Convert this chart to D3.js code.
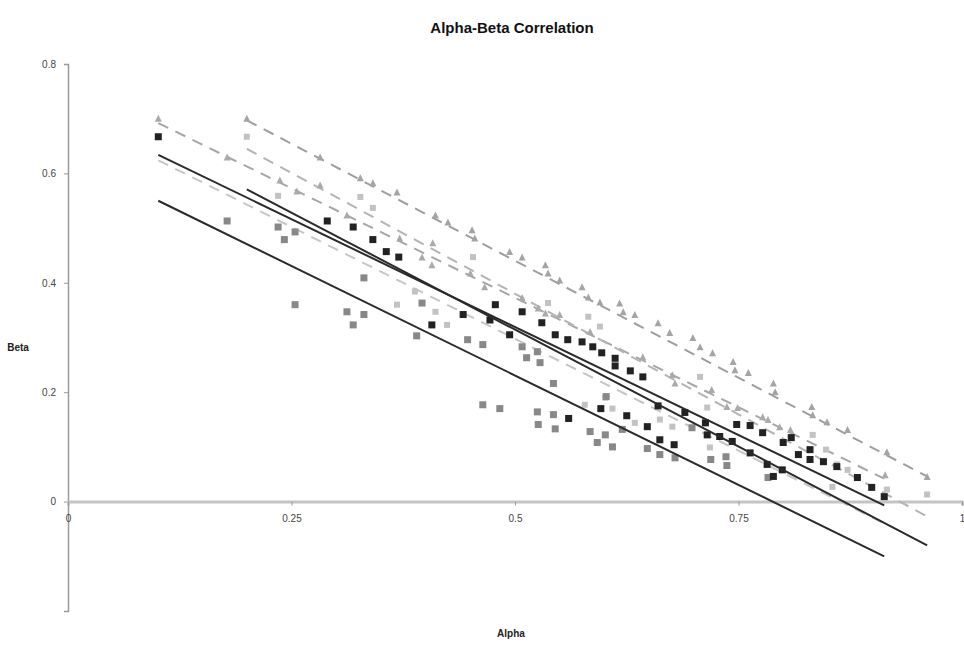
<!DOCTYPE html>
<html lang="en">
<head>
    <meta charset="UTF-8">
    <title>Alpha-Beta Correlation</title>
    <style>
        body, html {
            margin: 0;
            background-color: #fff;
            font-family: Arial, "Liberation Sans", sans-serif;
        }
        #chart { width: 964px; height: 648px; }
        .tick text { fill: #444; font-size: 10px; }
    </style>
    <script src="https://d3js.org/d3.v7.min.js"></script>
</head>
<body>
    <div id="chart"></div>
    <script>
        // [alpha, beta] pairs
        const darkSquares = [
            [0.101, 0.667], [0.290, 0.513], [0.319, 0.502], [0.341, 0.479], [0.356, 0.457],
            [0.370, 0.447], [0.407, 0.323], [0.442, 0.342], [0.472, 0.332], [0.478, 0.360],
            [0.494, 0.305], [0.508, 0.347], [0.530, 0.327], [0.545, 0.305], [0.559, 0.296],
            [0.575, 0.292], [0.587, 0.283], [0.597, 0.272], [0.612, 0.262], [0.612, 0.248],
            [0.629, 0.239], [0.643, 0.228], [0.560, 0.152], [0.596, 0.170], [0.625, 0.157],
            [0.648, 0.137], [0.662, 0.113], [0.678, 0.104], [0.660, 0.175], [0.690, 0.163],
            [0.713, 0.144], [0.715, 0.122], [0.729, 0.119], [0.743, 0.110], [0.748, 0.141],
            [0.763, 0.139], [0.763, 0.089], [0.777, 0.126], [0.782, 0.068], [0.789, 0.046],
            [0.799, 0.058], [0.800, 0.108], [0.809, 0.117], [0.817, 0.086], [0.830, 0.095],
            [0.830, 0.077], [0.845, 0.073], [0.860, 0.064], [0.883, 0.044], [0.899, 0.026],
            [0.913, 0.009]
        ];
        const graySquares = [
            [0.178, 0.513], [0.235, 0.502], [0.254, 0.493], [0.242, 0.479], [0.254, 0.360],
            [0.312, 0.347], [0.331, 0.342], [0.319, 0.323], [0.331, 0.409], [0.396, 0.363],
            [0.390, 0.303], [0.447, 0.296], [0.464, 0.287], [0.464, 0.177], [0.483, 0.170],
            [0.525, 0.164], [0.543, 0.159], [0.526, 0.141], [0.545, 0.133], [0.584, 0.128],
            [0.601, 0.122], [0.592, 0.108], [0.609, 0.100], [0.508, 0.283], [0.525, 0.274],
            [0.513, 0.263], [0.528, 0.254], [0.543, 0.216], [0.602, 0.192], [0.648, 0.097],
            [0.662, 0.086], [0.679, 0.080], [0.719, 0.077], [0.736, 0.082], [0.737, 0.066],
            [0.698, 0.135], [0.620, 0.132], [0.783, 0.044]
        ];
        const lightSquares = [
            [0.200, 0.667], [0.388, 0.384], [0.411, 0.347], [0.424, 0.323], [0.368, 0.360],
            [0.453, 0.447], [0.601, 0.190], [0.609, 0.170], [0.634, 0.144], [0.715, 0.172],
            [0.707, 0.228], [0.662, 0.150], [0.676, 0.137], [0.578, 0.177], [0.718, 0.099],
            [0.961, 0.013], [0.327, 0.557], [0.341, 0.537], [0.235, 0.559], [0.833, 0.122],
            [0.848, 0.095], [0.860, 0.068], [0.872, 0.058], [0.916, 0.022], [0.855, 0.027],
            [0.537, 0.363], [0.582, 0.338], [0.595, 0.320]
        ];
        const upperTriangles = [
            [0.200, 0.701], [0.282, 0.630], [0.327, 0.592], [0.341, 0.583], [0.368, 0.566],
            [0.411, 0.524], [0.425, 0.511], [0.452, 0.497], [0.455, 0.482], [0.494, 0.457],
            [0.508, 0.447], [0.534, 0.433], [0.537, 0.418], [0.550, 0.405], [0.575, 0.393],
            [0.582, 0.374], [0.595, 0.365], [0.617, 0.363], [0.621, 0.347], [0.634, 0.342],
            [0.660, 0.327], [0.673, 0.309], [0.699, 0.300], [0.707, 0.283], [0.721, 0.272],
            [0.744, 0.256], [0.746, 0.241], [0.761, 0.236], [0.789, 0.217], [0.791, 0.201],
            [0.832, 0.174], [0.833, 0.159], [0.849, 0.146], [0.872, 0.132], [0.916, 0.091],
            [0.961, 0.046]
        ];
        const lowerTriangles = [
            [0.101, 0.701], [0.178, 0.630], [0.237, 0.588], [0.256, 0.568], [0.282, 0.579],
            [0.312, 0.524], [0.371, 0.482], [0.408, 0.473], [0.396, 0.447], [0.407, 0.433],
            [0.450, 0.418], [0.466, 0.393], [0.508, 0.373], [0.526, 0.354], [0.534, 0.345],
            [0.550, 0.342], [0.584, 0.311], [0.643, 0.265], [0.676, 0.232], [0.679, 0.217],
            [0.720, 0.205], [0.737, 0.174], [0.749, 0.172], [0.777, 0.155], [0.783, 0.150],
            [0.796, 0.137], [0.808, 0.132], [0.914, 0.049]
        ];

        // trend lines: [alphaStart, betaStart, alphaEnd, betaEnd]
        const solidTrends = [
            [0.101, 0.634, 0.913, -0.007],
            [0.200, 0.571, 0.961, -0.080],
            [0.101, 0.550, 0.913, -0.100]
        ];
        const dashedTrends = [
            [0.200, 0.697, 0.961, 0.046],
            [0.101, 0.692, 0.913, 0.042],
            [0.200, 0.645, 0.961, -0.027],
            [0.101, 0.624, 0.913, -0.040]
        ];
        const dashedColors = ["#9e9e9e", "#a6a6a6", "#b4b4b4", "#c6c6c6"];

        const xTicks = [0, 0.25, 0.5, 0.75, 1];
        const yTicks = [-0.2, 0, 0.2, 0.4, 0.6, 0.8];

        const width = 964, height = 648;
        const svg = d3.select("#chart").append("svg")
            .attr("width", width)
            .attr("height", height);

        const x = d3.scaleLinear().domain([0, 1]).range([68, 962]);
        const y = d3.scaleLinear().domain([-0.2, 0.8]).range([611, 64]);

        // title and axis titles
        svg.append("text")
            .attr("x", 512).attr("y", 33)
            .attr("text-anchor", "middle")
            .style("font-size", "15px").style("font-weight", "bold").style("fill", "#111")
            .text("Alpha-Beta Correlation");
        svg.append("text")
            .attr("x", 18).attr("y", 351)
            .attr("text-anchor", "middle")
            .style("font-size", "10px").style("font-weight", "bold").style("fill", "#222")
            .text("Beta");
        svg.append("text")
            .attr("x", 511).attr("y", 637)
            .attr("text-anchor", "middle")
            .style("font-size", "10px").style("font-weight", "bold").style("fill", "#222")
            .text("Alpha");

        // y axis
        const yAxis = svg.append("g")
            .attr("transform", `translate(${x(0)},0)`)
            .call(d3.axisLeft(y).tickValues(yTicks).tickSize(4).tickPadding(8)
                .tickFormat(d => d === -0.2 ? "" : (d === 0 ? "0" : d3.format(".1f")(d))));
        yAxis.select(".domain").attr("stroke", "#9a9a9a").attr("stroke-width", 1.5);
        yAxis.selectAll(".tick line").attr("stroke", "#9a9a9a");

        // x axis drawn at beta = 0
        const xAxis = svg.append("g")
            .attr("transform", `translate(0,${y(0)})`)
            .call(d3.axisBottom(x).tickValues(xTicks).tickSize(4).tickPadding(9)
                .tickFormat(d => d === 0 ? "0" : (d === 1 ? "1" : String(d))));
        xAxis.select(".domain").attr("stroke", "#c4c4c4").attr("stroke-width", 3);
        xAxis.selectAll(".tick line").attr("stroke", "#999");

        // dashed trend lines
        svg.append("g").selectAll("line")
            .data(dashedTrends)
            .join("line")
            .attr("x1", d => x(d[0])).attr("y1", d => y(d[1]))
            .attr("x2", d => x(d[2])).attr("y2", d => y(d[3]))
            .attr("stroke", (d, i) => dashedColors[i])
            .attr("stroke-width", 2)
            .attr("stroke-dasharray", "11,8");

        const sq = (g, data, size, fill) => {
            g.selectAll("rect")
                .data(data)
                .join("rect")
                .attr("x", d => x(d[0]) - size / 2)
                .attr("y", d => y(d[1]) - size / 2)
                .attr("width", size).attr("height", size)
                .attr("fill", fill);
        };
        const tri = (g, data, size, fill) => {
            g.selectAll("path")
                .data(data)
                .join("path")
                .attr("transform", d => `translate(${x(d[0])},${y(d[1])})`)
                .attr("d", `M0,${-size / 2}L${size / 2},${size / 2}L${-size / 2},${size / 2}Z`)
                .attr("fill", fill);
        };

        sq(svg.append("g"), lightSquares, 6, "#c2c2c2");
        tri(svg.append("g"), upperTriangles, 7, "#a4a4a4");
        tri(svg.append("g"), lowerTriangles, 7, "#aaaaaa");
        sq(svg.append("g"), graySquares, 7, "#888888");
        sq(svg.append("g"), darkSquares, 7, "#222222");

        // solid trend lines
        svg.append("g").selectAll("line")
            .data(solidTrends)
            .join("line")
            .attr("x1", d => x(d[0])).attr("y1", d => y(d[1]))
            .attr("x2", d => x(d[2])).attr("y2", d => y(d[3]))
            .attr("stroke", "#2a2a2a")
            .attr("stroke-width", 2);
    </script>
</body>
</html>
